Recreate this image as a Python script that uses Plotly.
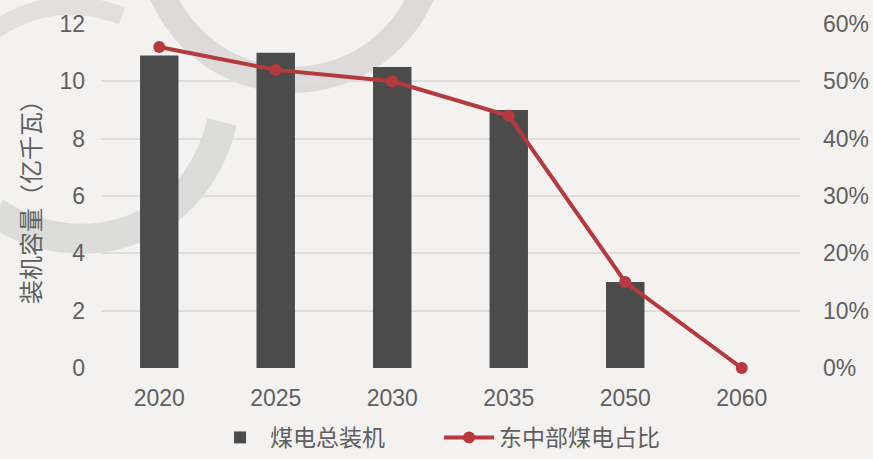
import numpy as np
import plotly.graph_objects as go

# Coal power outlook: total installed capacity and share located in eastern/central regions
years = ["2020", "2025", "2030", "2035", "2050", "2060"]
capacity = [10.9, 11.0, 10.5, 9.0, 3.0, 0.0]          # 亿千瓦
east_central_share = [0.56, 0.52, 0.50, 0.44, 0.15, 0.0]

bar_name = "煤电总装机"
line_name = "东中部煤电占比"
y_title = "装机容量（亿千瓦）"

W, H = 873, 459
ML, MR, MT, MB = 101, 73, 24, 91
PW, PH = W - ML - MR, H - MT - MB

FONT = "Liberation Sans, Arial, Noto Sans CJK SC, sans-serif"
CJK = "Noto Sans CJK SC, Liberation Sans, sans-serif"
TXT = "#5f5f5f"
BG = "#f3f2f1"
BAR = "#4b4b4b"
RED = "#b5393d"
GRID = "#dedddc"


def px(x, y):
    """Pixel position on the page -> paper coordinates."""
    return (x - ML) / PW, (MT + PH - y) / PH


def path_from(points):
    pts = [px(x, y) for x, y in points]
    return "M " + " L ".join(f"{a:.4f},{b:.4f}" for a, b in pts)


# faint background emblem arcs
t = np.linspace(np.radians(-20), np.radians(205), 80)
arc_upper = [(292 + 141 * np.cos(a), -61 + 141 * np.sin(a)) for a in t]

s = np.linspace(0, 1, 60)
p0, p1, p2, p3 = np.array([-5, 212]), np.array([80, 268]), np.array([195, 235]), np.array([222, 122])
arc_lower = [tuple((1 - u) ** 3 * p0 + 3 * (1 - u) ** 2 * u * p1 + 3 * (1 - u) * u ** 2 * p2 + u ** 3 * p3) for u in s]

q0, q1, q2 = np.array([-5, 30]), np.array([55, -10]), np.array([122, 16])
arc_top = [tuple((1 - u) ** 2 * q0 + 2 * (1 - u) * u * q1 + u ** 2 * q2) for u in s]

shapes = [
    dict(type="path", path=path_from(arc_upper), xref="paper", yref="paper",
         line=dict(color="rgba(170,170,170,0.32)", width=26), layer="below"),
    dict(type="path", path=path_from(arc_lower), xref="paper", yref="paper",
         line=dict(color="rgba(170,170,170,0.30)", width=30), layer="below"),
    dict(type="path", path=path_from(arc_top), xref="paper", yref="paper",
         line=dict(color="rgba(170,170,170,0.25)", width=18), layer="below"),
]

fig = go.Figure()
fig.add_trace(go.Bar(
    x=years, y=capacity, name=bar_name,
    marker=dict(color=BAR, line=dict(width=0)),
    width=0.33, yaxis="y",
))
fig.add_trace(go.Scatter(
    x=years, y=east_central_share, name=line_name, mode="lines+markers",
    line=dict(color=RED, width=4),
    marker=dict(color=RED, size=12),
    cliponaxis=False,
    yaxis="y2",
))

fig.update_layout(
    width=W, height=H,
    margin=dict(l=ML, r=MR, t=MT, b=MB, autoexpand=False),
    paper_bgcolor=BG, plot_bgcolor=BG,
    font=dict(family=FONT, size=23, color=TXT),
    shapes=shapes,
    xaxis=dict(
        type="category", showgrid=False, showline=False, zeroline=False,
        ticks="", ticklabelstandoff=14, tickfont=dict(size=23, color=TXT),
    ),
    yaxis=dict(
        range=[0, 12], dtick=2, tick0=0, showgrid=True, gridcolor=GRID, gridwidth=2,
        zeroline=False, showline=False, ticks="", ticklabelstandoff=15,
        tickfont=dict(size=23, color=TXT),
        title=dict(text=y_title, font=dict(family=CJK, size=24, color=TXT), standoff=12),
    ),
    yaxis2=dict(
        range=[0, 0.6], dtick=0.1, tick0=0, tickformat=".0%", overlaying="y",
        side="right", showgrid=False, zeroline=False, showline=False, ticks="",
        ticklabelstandoff=22, tickfont=dict(size=23, color=TXT),
    ),
    legend=dict(
        orientation="h", x=0.156, xanchor="left", y=-0.2645, yanchor="bottom",
        font=dict(family=CJK, size=23, color=TXT), bgcolor="rgba(0,0,0,0)",
        itemwidth=50, tracegroupgap=0, entrywidth=164,
    ),
    showlegend=True,
)

fig.write_html("out.html")
